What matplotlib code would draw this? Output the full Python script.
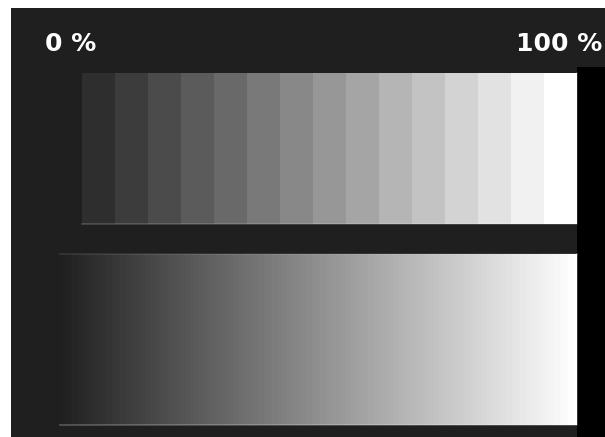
import numpy as np
import matplotlib
matplotlib.use("Agg")
import matplotlib.pyplot as plt
from matplotlib.patches import Rectangle
from matplotlib.colors import LinearSegmentedColormap

# ---- data ----
step_levels = [0x1f, 0x2e, 0x3d, 0x4b, 0x5b, 0x6a, 0x7a, 0x88,
               0x97, 0xa5, 0xb5, 0xc4, 0xd3, 0xe2, 0xf1, 0xff]   # grey level of each step (0-255)
gradient_stops = [0x1e, 0xff]                                   # grey at start / end of continuous ramp
gradient_bands = 120
label_left = "0 %"
label_right = "100 %"

# ---- layout (pixels) ----
W, H = 605, 437
fig = plt.figure(figsize=(W / 100, H / 100), dpi=100)
fig.patch.set_facecolor("white")
ax = fig.add_axes([0, 0, 1, 1])
ax.set_xlim(0, W)
ax.set_ylim(H, 0)
ax.axis("off")

BG = "#1f1f1f"
ax.add_patch(Rectangle((11, 8), W - 11, H - 8, facecolor=BG, edgecolor="none", zorder=0))
ax.add_patch(Rectangle((577, 67), W - 577, H - 67, facecolor="black", edgecolor="none", zorder=0))

# stepped strip
steps = np.array(step_levels, dtype=float)[None, :] / 255.0
ax.imshow(steps, cmap="gray", vmin=0, vmax=1, extent=(49, 577, 224, 73),
          aspect="auto", interpolation="nearest", zorder=1)
ax.plot([82, 577, 577], [224, 224, 73], color=(1, 1, 1, 0.18), lw=1.2, zorder=2)

# continuous gradient
cmap = LinearSegmentedColormap.from_list(
    "g", [(gradient_stops[0] / 255,) * 3, (gradient_stops[1] / 255,) * 3], N=gradient_bands)
ramp = np.linspace(0, 1, 600)[None, :]
ax.imshow(ramp, cmap=cmap, vmin=0, vmax=1, extent=(55, 577, 425, 254),
          aspect="auto", interpolation="nearest", zorder=1)
ax.plot([60, 577], [254, 254], color=(1, 1, 1, 0.10), lw=1.2, zorder=2)
ax.plot([60, 577, 577], [425, 425, 254], color=(1, 1, 1, 0.25), lw=1.2, zorder=2)

# labels
ax.text(45, 44, label_left, color="white", fontsize=18, fontweight="bold",
        family="DejaVu Sans", ha="left", va="center", zorder=3)
ax.text(602, 44, label_right, color="white", fontsize=18, fontweight="bold",
        family="DejaVu Sans", ha="right", va="center", zorder=3)

fig.savefig("out.png", dpi=100, facecolor=fig.get_facecolor())
